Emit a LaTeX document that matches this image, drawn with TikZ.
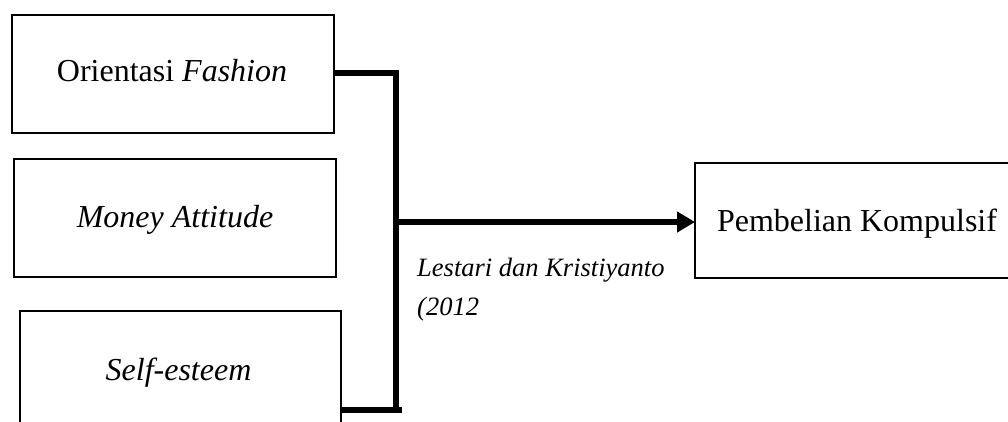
\documentclass[tikz,border=0pt]{standalone}
\usepackage{fontspec}
\setmainfont{Liberation Serif}
\usetikzlibrary{arrows.meta}
\tikzset{
  box/.style={draw=black, line width=1.3pt, fill=none, inner sep=0pt, outer sep=0pt},
  boxtext/.style={anchor=base, inner sep=0pt, font=\fontsize{32}{38}\selectfont},
  lbl/.style={anchor=base west, inner sep=0pt, align=left, font=\fontsize{26.5}{38.5}\selectfont\itshape},
  thickline/.style={line width=6pt, line join=miter},
}
\begin{document}
\begin{tikzpicture}[x=1pt,y=-1pt]
\useasboundingbox (0,0) rectangle (1008,421);
\clip (0,0) rectangle (1008,421);
% boxes
\node[box, minimum width=322pt, minimum height=118pt] (b1) at (173,74) {};
\node[box, minimum width=322pt, minimum height=118pt] (b2) at (175,218) {};
\node[box, minimum width=321pt, minimum height=200pt] (b3) at (180.5,411) {};
\node[box, minimum width=345pt, minimum height=115pt] (b4) at (867.5,220.5) {};
% texts
\node[boxtext] (t1) at (172,81.5) {Orientasi \textit{Fashion}};
\node[boxtext] (t2) at (175,227) {\textit{Money Attitude}};
\node[boxtext] (t3) at (178.5,380) {\textit{Self-esteem}};
\node[boxtext] (t4) at (857,231) {Pembelian Kompulsif};
\node[lbl] (l1) at (417,315) {Lestari dan Kristiyanto\\(2012};
% connectors
\coordinate (j1) at (395.5,73);
\coordinate (j2) at (395.5,409.5);
\coordinate (j3) at (402,409.5);
\coordinate (jm) at (395.5,222);
\draw[thickline] (b1.east |- j1) -- (j1) -- (j2);
\draw[thickline] (b3.east |- j3) -- (j3);
\draw[line width=6.5pt, -{Triangle[length=18pt,width=20pt]}] (jm) -- (b4.west |- jm);
\end{tikzpicture}
\end{document}
